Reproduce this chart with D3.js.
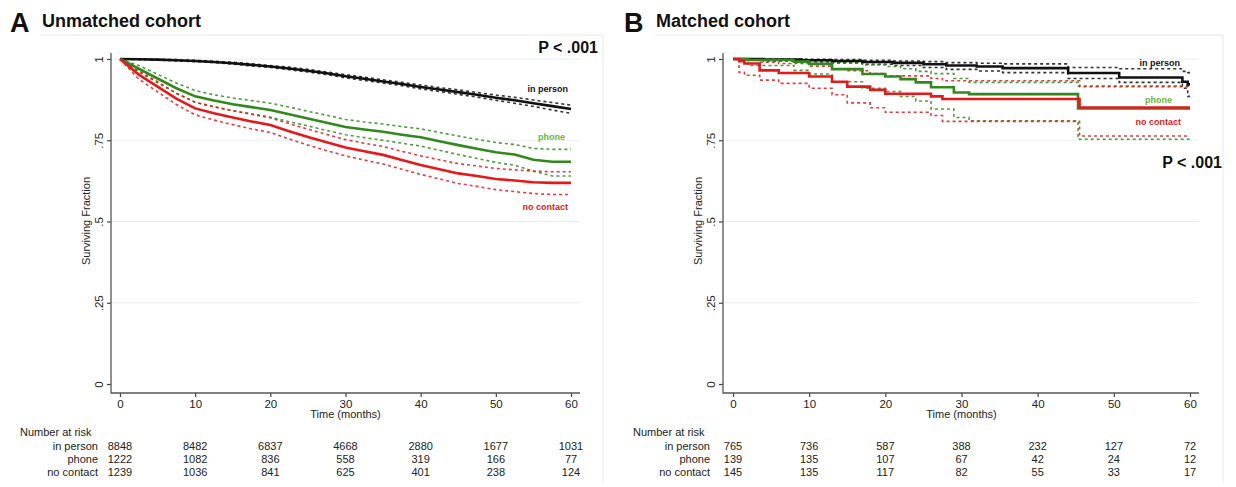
<!DOCTYPE html>
<html>
<head>
<meta charset="utf-8">
<script src="https://cdn.jsdelivr.net/npm/d3@7"></script>
<style>
  body { margin: 0; background: #fff; }
  svg { font-family: "Liberation Sans", Arial, sans-serif; }
</style>
</head>
<body>
<div id="chart"></div>
<script>
// ---- Panel A: unmatched cohort (read every 2.5 months) ----
var timesA = [0, 2.5, 5, 7.5, 10, 12.5, 15, 17.5, 20, 22.5, 25, 27.5, 30, 32.5, 35, 37.5, 40, 42.5, 45, 47.5, 50, 52.5, 55, 57.5, 60];

var personA   = [1, 0.999, 0.998, 0.996, 0.994, 0.991, 0.987, 0.982, 0.977, 0.971, 0.964, 0.956, 0.947, 0.939, 0.931, 0.923, 0.914, 0.906, 0.898, 0.890, 0.881, 0.873, 0.864, 0.855, 0.846];
var personAUp = [1, 1, 0.999, 0.998, 0.996, 0.993, 0.990, 0.985, 0.980, 0.975, 0.968, 0.960, 0.952, 0.944, 0.936, 0.928, 0.920, 0.912, 0.905, 0.897, 0.889, 0.882, 0.874, 0.866, 0.858];
var personALo = [1, 0.998, 0.997, 0.994, 0.992, 0.989, 0.984, 0.979, 0.974, 0.967, 0.960, 0.952, 0.942, 0.934, 0.926, 0.918, 0.908, 0.900, 0.891, 0.883, 0.873, 0.864, 0.854, 0.843, 0.833];

var phoneA   = [1, 0.970, 0.940, 0.910, 0.885, 0.872, 0.861, 0.852, 0.843, 0.830, 0.817, 0.804, 0.791, 0.783, 0.776, 0.767, 0.759, 0.747, 0.735, 0.724, 0.713, 0.706, 0.690, 0.684, 0.684];
var phoneAUp = [1, 0.980, 0.953, 0.926, 0.903, 0.890, 0.880, 0.872, 0.864, 0.852, 0.839, 0.827, 0.814, 0.806, 0.800, 0.792, 0.785, 0.774, 0.763, 0.753, 0.743, 0.737, 0.725, 0.722, 0.722];
var phoneALo = [1, 0.960, 0.927, 0.894, 0.867, 0.853, 0.841, 0.831, 0.821, 0.807, 0.794, 0.780, 0.767, 0.758, 0.750, 0.741, 0.732, 0.719, 0.706, 0.694, 0.682, 0.673, 0.655, 0.640, 0.640];

var noneA   = [1, 0.952, 0.915, 0.878, 0.848, 0.833, 0.820, 0.808, 0.797, 0.778, 0.760, 0.744, 0.728, 0.716, 0.705, 0.689, 0.674, 0.661, 0.648, 0.640, 0.631, 0.626, 0.621, 0.619, 0.619];
var noneAUp = [1, 0.964, 0.930, 0.895, 0.867, 0.853, 0.841, 0.830, 0.819, 0.801, 0.784, 0.768, 0.752, 0.741, 0.731, 0.716, 0.702, 0.690, 0.678, 0.671, 0.663, 0.659, 0.655, 0.653, 0.653];
var noneALo = [1, 0.938, 0.899, 0.860, 0.828, 0.812, 0.798, 0.785, 0.774, 0.754, 0.735, 0.718, 0.702, 0.689, 0.677, 0.661, 0.645, 0.631, 0.617, 0.608, 0.598, 0.592, 0.586, 0.583, 0.583];

// ---- Panel B: matched cohort (step times and values after each step) ----
var personBT  = [0, 4, 9, 13, 17, 21, 25, 28, 32, 35.4, 44, 50.7, 59, 59.7];
var personB   = [1, 0.998, 0.996, 0.994, 0.991, 0.988, 0.984, 0.980, 0.977, 0.972, 0.957, 0.943, 0.930, 0.922];
var personBUp = [1, 1, 0.999, 0.998, 0.996, 0.994, 0.992, 0.989, 0.987, 0.985, 0.974, 0.970, 0.962, 0.958];
var personBLo = [1, 0.994, 0.991, 0.988, 0.984, 0.980, 0.974, 0.968, 0.963, 0.958, 0.940, 0.928, 0.910, 0.885];

var phoneBT  = [0, 2, 8, 10, 13, 17, 20, 22, 24, 26, 29, 31, 45.3];
var phoneB   = [1, 0.997, 0.992, 0.985, 0.969, 0.954, 0.946, 0.938, 0.928, 0.913, 0.897, 0.892, 0.848];
var phoneBUp = [1, 1, 0.999, 0.997, 0.990, 0.982, 0.977, 0.970, 0.962, 0.955, 0.940, 0.928, 0.917];
var phoneBLo = [1, 0.980, 0.965, 0.954, 0.930, 0.910, 0.900, 0.885, 0.871, 0.846, 0.820, 0.810, 0.753];

var noneBT  = [0, 0.8, 1.5, 3.5, 6, 10, 13, 15, 18, 20, 26, 27.5, 45.5];
var noneB   = [1, 0.993, 0.986, 0.965, 0.957, 0.946, 0.930, 0.915, 0.905, 0.893, 0.885, 0.877, 0.851];
var noneBUp = [1, 1, 0.998, 0.990, 0.986, 0.978, 0.970, 0.964, 0.955, 0.948, 0.940, 0.933, 0.915];
var noneBLo = [1, 0.959, 0.950, 0.935, 0.925, 0.910, 0.890, 0.865, 0.850, 0.836, 0.826, 0.808, 0.763];

// ---- axes and risk tables ----
var xTicks = [0, 10, 20, 30, 40, 50, 60];
var yTicks = [0, 0.25, 0.5, 0.75, 1];
var yTickLabels = ["0", ".25", ".5", ".75", "1"];
var groups = ["in person", "phone", "no contact"];
var riskA = [
  [8848, 8482, 6837, 4668, 2880, 1677, 1031],
  [1222, 1082, 836, 558, 319, 166, 77],
  [1239, 1036, 841, 625, 401, 238, 124]
];
var riskB = [
  [765, 736, 587, 388, 232, 127, 72],
  [139, 135, 107, 67, 42, 24, 12],
  [145, 135, 117, 82, 55, 33, 17]
];

var colBlack = "#111111", colGreen = "#2f8a1b", colRed = "#e3191c";
var colPhoneLabel = "#6cb33f";

var svg = d3.select("#chart").append("svg")
  .attr("width", 1236).attr("height", 487);

function zip(t, v) {
  return t.map(function(d, i) { return [d, v[i]]; });
}

// hold the last value out to 60 months
function toEnd(arr) {
  return arr.concat([arr[arr.length - 1]]);
}

function drawPanel(p) {
  var g = svg.append("g");
  var x = d3.scaleLinear().domain([0, 60]).range([p.x0, p.x1]);
  var y = d3.scaleLinear().domain([0, 1]).range([384, 59]);

  // faint graph region frame
  g.append("path")
    .attr("d", "M" + p.frameL + ",35H" + p.frameR + "V483")
    .attr("fill", "none").attr("stroke", "#e6e9ea").attr("stroke-width", 1);

  // grid lines
  g.selectAll(".grid").data(yTicks.slice(1)).enter().append("line")
    .attr("x1", p.axisX).attr("x2", p.axisEnd)
    .attr("y1", function(d) { return y(d); }).attr("y2", function(d) { return y(d); })
    .attr("stroke", "#e8eeee").attr("stroke-width", 1);

  // y axis
  var yAxis = g.append("g").attr("transform", "translate(" + p.axisX + ",0)")
    .call(d3.axisLeft(y).tickValues(yTicks).tickSize(4)
      .tickFormat(function(d, i) { return yTickLabels[i]; }));
  yAxis.select(".domain").remove();
  yAxis.selectAll("line").attr("stroke", "#444").attr("stroke-width", 1.2);
  yAxis.selectAll("text")
    .attr("transform", "rotate(-90)")
    .attr("x", 0).attr("dy", 0).attr("y", -8)
    .attr("text-anchor", "middle")
    .attr("font-size", 11.5).attr("fill", "#222");

  // x axis
  var xAxis = g.append("g").attr("transform", "translate(0,393)")
    .call(d3.axisBottom(x).tickValues(xTicks).tickSize(4).tickPadding(3));
  xAxis.select(".domain").remove();
  xAxis.selectAll("line").attr("stroke", "#444").attr("stroke-width", 1.2);
  xAxis.selectAll("text").attr("font-size", 11.5).attr("fill", "#222");

  // axis lines
  g.append("path")
    .attr("d", "M" + p.axisX + ",53V393H" + p.axisEnd)
    .attr("fill", "none").attr("stroke", "#555").attr("stroke-width", 1.3);

  g.append("text").attr("x", x(30)).attr("y", 418)
    .attr("text-anchor", "middle").attr("font-size", 11).attr("fill", "#222")
    .text("Time (months)");
  g.append("text")
    .attr("transform", "translate(" + (p.axisX - 21) + ",221) rotate(-90)")
    .attr("text-anchor", "middle").attr("font-size", 11).attr("fill", "#222")
    .text("Surviving Fraction");

  // curves
  var line = d3.line()
    .x(function(d) { return x(d[0]); })
    .y(function(d) { return y(d[1]); })
    .curve(p.curve);

  p.series.forEach(function(s) {
    [s.up, s.lo].forEach(function(ci) {
      g.append("path").datum(zip(s.t, ci))
        .attr("d", line).attr("fill", "none")
        .attr("stroke", s.color).attr("stroke-width", 1.6)
        .attr("stroke-dasharray", "3,3").attr("opacity", 0.85);
    });
  });
  p.series.forEach(function(s) {
    g.append("path").datum(zip(s.t, s.v))
      .attr("d", line).attr("fill", "none")
      .attr("stroke", s.color).attr("stroke-width", 2.6);
  });

  // curve labels
  p.labels.forEach(function(l) {
    g.append("text").attr("x", l.x).attr("y", l.y)
      .attr("text-anchor", "end").attr("font-size", 9).attr("font-weight", "bold")
      .attr("fill", l.color).text(l.text);
  });

  // p value
  g.append("text").attr("x", p.pX).attr("y", p.pY)
    .attr("text-anchor", "end").attr("font-size", 16).attr("font-weight", "bold")
    .attr("fill", "#111").text("P < .001");

  // panel title
  g.append("text").attr("x", p.letterX).attr("y", 32)
    .attr("font-size", 27).attr("font-weight", "bold").attr("fill", "#111").text(p.letter);
  g.append("text").attr("x", p.letterX + 32).attr("y", 27)
    .attr("font-size", 18).attr("font-weight", "bold").attr("fill", "#111").text(p.title);

  // number at risk
  g.append("text").attr("x", p.riskX).attr("y", 436)
    .attr("font-size", 11).attr("fill", "#222").text("Number at risk");
  var rows = g.selectAll(".row").data(p.risk).enter().append("g")
    .attr("transform", function(d, i) { return "translate(0," + (450 + i * 13) + ")"; });
  rows.append("text").attr("x", p.axisX - 13).attr("text-anchor", "end")
    .attr("font-size", 11).attr("fill", "#222")
    .text(function(d, i) { return groups[i]; });
  rows.selectAll(".n").data(function(d) { return d; }).enter().append("text")
    .attr("x", function(d, i) { return x(xTicks[i]); })
    .attr("text-anchor", "middle").attr("font-size", 11).attr("fill", "#222")
    .text(function(d) { return d; });
}

drawPanel({
  x0: 120, x1: 571, axisX: 111, axisEnd: 580, frameL: 40, frameR: 603,
  curve: d3.curveLinear,
  series: [
    { t: timesA, v: personA, up: personAUp, lo: personALo, color: colBlack },
    { t: timesA, v: phoneA, up: phoneAUp, lo: phoneALo, color: colGreen },
    { t: timesA, v: noneA, up: noneAUp, lo: noneALo, color: colRed }
  ],
  labels: [
    { text: "in person", x: 568, y: 92, color: colBlack },
    { text: "phone", x: 565, y: 140, color: colPhoneLabel },
    { text: "no contact", x: 568, y: 210, color: colRed }
  ],
  pX: 598, pY: 53, letter: "A", letterX: 10, title: "Unmatched cohort",
  riskX: 20, risk: riskA
});

drawPanel({
  x0: 733, x1: 1190, axisX: 723, axisEnd: 1199, frameL: 655, frameR: 1223,
  curve: d3.curveStepAfter,
  series: [
    { t: toEnd(personBT).slice(0, -1).concat([60]), v: toEnd(personB),
      up: toEnd(personBUp), lo: toEnd(personBLo), color: colBlack },
    { t: phoneBT.concat([60]), v: toEnd(phoneB),
      up: toEnd(phoneBUp), lo: toEnd(phoneBLo), color: colGreen },
    { t: noneBT.concat([60]), v: toEnd(noneB),
      up: toEnd(noneBUp), lo: toEnd(noneBLo), color: colRed }
  ],
  labels: [
    { text: "in person", x: 1180, y: 66, color: colBlack },
    { text: "phone", x: 1172, y: 103, color: colPhoneLabel },
    { text: "no contact", x: 1181, y: 125, color: colRed }
  ],
  pX: 1222, pY: 168, letter: "B", letterX: 624, title: "Matched cohort",
  riskX: 633, risk: riskB
});
</script>
</body>
</html>
